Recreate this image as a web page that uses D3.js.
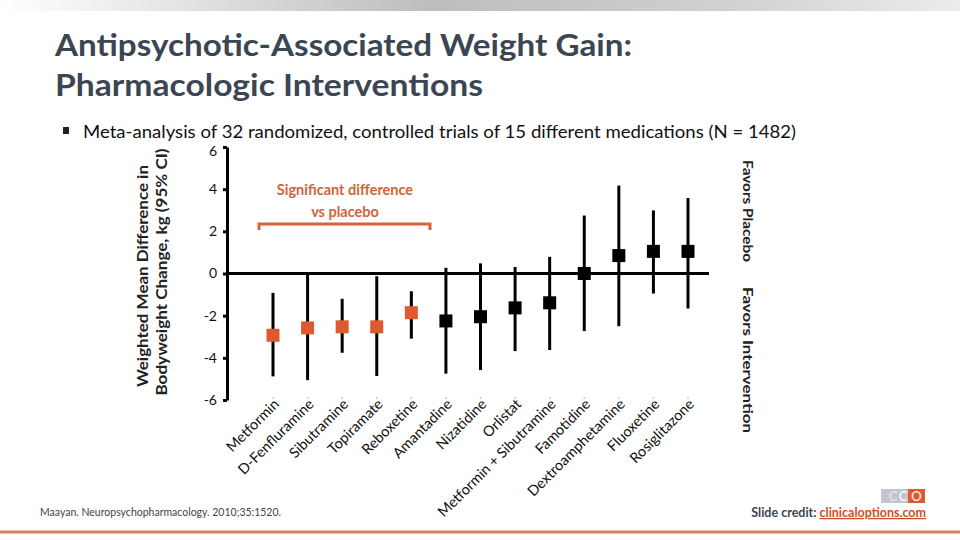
<!DOCTYPE html>
<html>
<head>
<meta charset="utf-8">
<script src="https://cdn.jsdelivr.net/npm/d3@7"></script>
<style>
  html, body { margin: 0; padding: 0; background: #fff; }
  svg { display: block; font-family: Lato, "Open Sans", sans-serif; }
</style>
</head>
<body>
<div id="chart"></div>
<script>
// data
const drugs = ["Metformin", "D-Fenfluramine", "Sibutramine", "Topiramate", "Reboxetine",
  "Amantadine", "Nizatidine", "Orlistat", "Metformin + Sibutramine", "Famotidine",
  "Dextroamphetamine", "Fluoxetine", "Rosiglitazone"];
const meanDiff = [-2.93, -2.58, -2.53, -2.53, -1.86, -2.25, -2.05, -1.63, -1.39, 0.0, 0.85, 1.05, 1.05];
const ciUpper  = [-0.92, -0.05, -1.20, -0.13, -0.84, 0.27, 0.48, 0.31, 0.79, 2.75, 4.17, 2.99, 3.58];
const ciLower  = [-4.88, -5.06, -3.76, -4.86, -3.09, -4.75, -4.58, -3.68, -3.63, -2.73, -2.50, -0.95, -1.66];
const significant = [true, true, true, true, true, false, false, false, false, false, false, false, false];
const yTicks = [-6, -4, -2, 0, 2, 4, 6];

const W = 960, H = 540;
const ORANGE = "#DD5A2F";
const ORANGE_TXT = "#D5623A";
const SLATE = "#3B4652";

const svg = d3.select("#chart").append("svg")
  .attr("width", W).attr("height", H)
  .attr("viewBox", `0 0 ${W} ${H}`);

// top gradient band
const defs = svg.append("defs");
const grad = defs.append("linearGradient").attr("id", "topband");
grad.append("stop").attr("offset", "0%").attr("stop-color", "#ffffff");
grad.append("stop").attr("offset", "45%").attr("stop-color", "#bdbdbd");
grad.append("stop").attr("offset", "75%").attr("stop-color", "#d0d0d0");
grad.append("stop").attr("offset", "100%").attr("stop-color", "#ececec");
svg.append("rect").attr("x", 0).attr("y", 0).attr("width", W).attr("height", 11).attr("fill", "url(#topband)");

// set text to the width it has on the slide (slide font has other metrics)
function fit(sel, w) {
  sel.attr("textLength", w).attr("lengthAdjust", "spacingAndGlyphs");
  return sel;
}

// title
fit(svg.append("text").attr("x", 55).attr("y", 56)
  .attr("fill", SLATE).attr("font-weight", 700).attr("font-size", 31)
  .text("Antipsychotic-Associated Weight Gain:"), 577);
fit(svg.append("text").attr("x", 55).attr("y", 96)
  .attr("fill", SLATE).attr("font-weight", 700).attr("font-size", 31)
  .text("Pharmacologic Interventions"), 428);

// bullet line
svg.append("rect").attr("x", 63).attr("y", 127).attr("width", 6).attr("height", 7).attr("fill", "#222");
fit(svg.append("text").attr("x", 83).attr("y", 138)
  .attr("fill", "#111").attr("font-size", 17)
  .text("Meta-analysis of 32 randomized, controlled trials of 15 different medications (N = 1482)"), 713);

// scales
const x = d3.scalePoint().domain(drugs).range([273, 688]);
const y = d3.scaleLinear().domain([-6, 6]).range([400, 147]);
const AXIS_X = 227;

// y axis
const gy = svg.append("g").attr("transform", `translate(${AXIS_X},0)`)
  .call(d3.axisLeft(y).tickValues(yTicks).tickSize(4).tickSizeOuter(0).tickPadding(6)
    .tickFormat(d => String(d)));
gy.select(".domain").attr("stroke", "#000").attr("stroke-width", 3);
gy.selectAll(".tick line").attr("stroke", "#000").attr("stroke-width", 3);
gy.selectAll(".tick text").attr("fill", "#111").attr("font-size", 14)
  .attr("font-family", "Lato, sans-serif");
// top label sits a bit lower on the slide
gy.selectAll(".tick text").filter(d => d === 6).attr("dy", "0.62em");

// zero line
svg.append("line")
  .attr("x1", AXIS_X).attr("x2", 709)
  .attr("y1", y(0)).attr("y2", y(0))
  .attr("stroke", "#000").attr("stroke-width", 3);

// tiny category ticks at the bottom
svg.append("g").selectAll("line").data(drugs).join("line")
  .attr("x1", d => x(d)).attr("x2", d => x(d))
  .attr("y1", 397).attr("y2", 399)
  .attr("stroke", "#ccc").attr("stroke-width", 1.5);

// CI whiskers
const pts = drugs.map((d, i) => ({ name: d, m: meanDiff[i], lo: ciLower[i], hi: ciUpper[i], sig: significant[i] }));
svg.append("g").selectAll("line").data(pts).join("line")
  .attr("x1", d => x(d.name)).attr("x2", d => x(d.name))
  .attr("y1", d => y(d.hi)).attr("y2", d => y(d.lo))
  .attr("stroke", "#000").attr("stroke-width", 3);

// point estimates
const SQ = 13;
svg.append("g").selectAll("rect").data(pts).join("rect")
  .attr("x", d => x(d.name) - SQ / 2).attr("y", d => y(d.m) - SQ / 2)
  .attr("width", SQ).attr("height", SQ)
  .attr("fill", d => d.sig ? ORANGE : "#000");

// category labels, rotated
svg.append("g").selectAll("text").data(drugs).join("text")
  .attr("transform", d => `translate(${x(d) + 7},${405}) rotate(-45)`)
  .attr("text-anchor", "end")
  .attr("fill", "#111").attr("font-size", 14.5)
  .text(d => d);

// significance bracket
svg.append("path")
  .attr("d", "M259,230 V224 H430 V230")
  .attr("fill", "none").attr("stroke", ORANGE_TXT).attr("stroke-width", 3);
svg.append("text").attr("x", 345).attr("y", 195).attr("text-anchor", "middle")
  .attr("fill", ORANGE_TXT).attr("font-weight", 700).attr("font-size", 14.5)
  .text("Significant difference");
svg.append("text").attr("x", 345).attr("y", 217).attr("text-anchor", "middle")
  .attr("fill", ORANGE_TXT).attr("font-weight", 700).attr("font-size", 14.5)
  .text("vs placebo");

// y axis title
const yt = svg.append("g").attr("transform", "translate(148,276) rotate(-90)");
fit(yt.append("text").attr("x", 0).attr("y", 0).attr("text-anchor", "middle")
  .attr("fill", "#222").attr("font-weight", 700).attr("font-size", 15)
  .text("Weighted Mean Difference in"), 222);
fit(yt.append("text").attr("x", 4).attr("y", 19).attr("text-anchor", "middle")
  .attr("fill", "#222").attr("font-weight", 700).attr("font-size", 15)
  .text("Bodyweight Change, kg (95% CI)"), 247);

// right side labels
fit(svg.append("text").attr("transform", "translate(743,211) rotate(90)")
  .attr("text-anchor", "middle").attr("fill", "#222").attr("font-weight", 700).attr("font-size", 14)
  .text("Favors Placebo"), 102);
fit(svg.append("text").attr("transform", "translate(743,360) rotate(90)")
  .attr("text-anchor", "middle").attr("fill", "#222").attr("font-weight", 700).attr("font-size", 14)
  .text("Favors Intervention"), 146);

// footer
svg.append("text").attr("x", 40).attr("y", 516)
  .attr("fill", "#444").attr("font-size", 10.5)
  .text("Maayan. Neuropsychopharmacology. 2010;35:1520.");

const credit = svg.append("text").attr("x", 926).attr("y", 517).attr("text-anchor", "end")
  .attr("font-weight", 700).attr("font-size", 12.5);
credit.append("tspan").attr("fill", SLATE).text("Slide credit: ");
credit.append("tspan").attr("fill", "#D24E26").attr("text-decoration", "underline").text("clinicaloptions.com");

// CCO logo
svg.append("rect").attr("x", 881).attr("y", 489).attr("width", 27).attr("height", 14).attr("fill", "#c3c7cb");
svg.append("rect").attr("x", 908).attr("y", 489).attr("width", 17).attr("height", 14).attr("fill", "#DD5A2F");
svg.append("text").attr("x", 893).attr("y", 501).attr("text-anchor", "middle").attr("fill", "#e8eaec")
  .attr("font-size", 13).text("C");
svg.append("text").attr("x", 903).attr("y", 501).attr("text-anchor", "middle").attr("fill", "#fff")
  .attr("font-size", 13).text("C");
svg.append("text").attr("x", 916.5).attr("y", 501).attr("text-anchor", "middle").attr("fill", "#fff")
  .attr("font-size", 13).text("O");

// bottom rule
svg.append("line").attr("x1", 0).attr("x2", W).attr("y1", 532).attr("y2", 532)
  .attr("stroke", "#D9805F").attr("stroke-width", 3);
</script>
</body>
</html>
